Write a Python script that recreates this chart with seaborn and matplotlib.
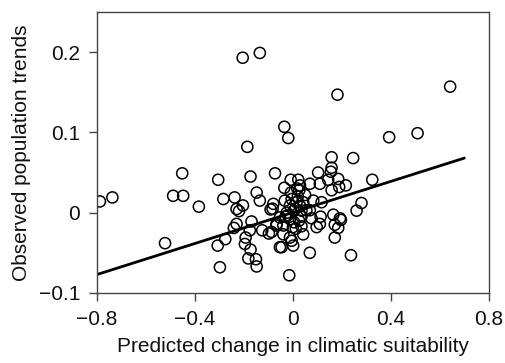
import numpy as np
import pandas as pd
import seaborn as sns
import matplotlib.pyplot as plt

# --- Data ---
suitability = [
    -0.205, -0.135, 0.182, 0.642, -0.035, -0.019, 0.393, 0.509,
    -0.186, -0.452, -0.305, -0.173, -0.073, -0.788, -0.737, -0.489,
    -0.448, -0.384, -0.284, -0.238, -0.230, -0.220, -0.204, -0.148,
    -0.135, -0.091, -0.080, -0.230, -0.241, -0.169, -0.176, -0.125,
    -0.098, -0.067, -0.193, -0.276, -0.196, -0.307, -0.522, -0.173,
    -0.182, -0.151, -0.148, -0.298, -0.053,
    0.158, 0.246, 0.158, 0.155, 0.103, -0.009, 0.022, 0.029,
    0.026, 0.069, 0.110, 0.144, 0.185, 0.216, 0.189, 0.158,
    0.324, -0.035, -0.033, -0.005, -0.012, 0.015, 0.042, 0.083,
    0.117, 0.004, 0.035, 0.069, -0.083, 0.280, 0.260, 0.165,
    0.192, 0.196, 0.113, 0.076, 0.035, -0.012, -0.053, -0.067,
    -0.039, 0.035, 0.097, 0.110, 0.171, 0.185, -0.087, -0.039,
    0.042, -0.012, -0.005, 0.171, 0.001, -0.046, 0.069, 0.237,
    -0.015,
    0.010, 0.020, -0.020, 0.005, 0.030, -0.025, 0.050, 0.012,
    -0.008, 0.025, 0.055, -0.030, 0.000, 0.018,
]
trend = [
    0.193, 0.199, 0.147, 0.157, 0.107, 0.093, 0.094, 0.099,
    0.082, 0.049, 0.041, 0.045, 0.049, 0.014, 0.019, 0.021,
    0.021, 0.0075, 0.017, 0.019, 0.0046, 0.002, 0.009, 0.025,
    0.015, 0.004, 0.011, -0.014, -0.019, -0.011, -0.022, -0.022,
    -0.026, -0.016, -0.031, -0.033, -0.039, -0.041, -0.038, -0.046,
    -0.057, -0.058, -0.067, -0.068, -0.043,
    0.069, 0.068, 0.056, 0.051, 0.050, 0.041, 0.041, 0.034,
    0.028, 0.036, 0.036, 0.041, 0.042, 0.034, 0.032, 0.028,
    0.041, 0.031, 0.015, 0.017, 0.009, 0.013, 0.013, 0.015,
    0.013, 0.0025, 0.0025, 0.003, 0.005, 0.012, 0.0025, -0.0025,
    -0.007, -0.009, -0.005, -0.007, -0.005, -0.008, -0.006, -0.014,
    -0.016, -0.017, -0.018, -0.014, -0.015, -0.019, -0.024, -0.027,
    -0.027, -0.031, -0.035, -0.031, -0.041, -0.043, -0.050, -0.053,
    -0.078,
    0.005, 0.020, -0.003, -0.012, 0.008, 0.000, 0.022, -0.020,
    0.025, -0.010, 0.003, -0.005, -0.018, 0.030,
]

# published regression line (slope / intercept)
fit_slope = 0.0967
fit_intercept = 0.0003
fit_x_range = [-0.8, 0.70]

x_ticks = [-0.8, -0.4, 0, 0.4, 0.8]
x_tick_labels = ["\u22120.8", "\u22120.4", "0", "0.4", "0.8"]
y_ticks = [-0.1, 0, 0.1, 0.2]
y_tick_labels = ["\u22120.1", "0", "0.1", "0.2"]

df = pd.DataFrame({"suitability": suitability, "trend": trend})

sns.set_theme(style="ticks")
plt.rcParams["font.family"] = ["Liberation Sans", "DejaVu Sans"]

fig = plt.figure(figsize=(5.05, 3.63), dpi=100)
ax = fig.add_axes([0.192, 0.193, 0.776, 0.774])

sns.scatterplot(data=df, x="suitability", y="trend", ax=ax,
                facecolor="none", edgecolor="black", linewidth=1.1, s=64)

fit_x = np.array(fit_x_range)
sns.lineplot(x=fit_x, y=fit_slope * fit_x + fit_intercept, ax=ax,
             color="black", linewidth=2)

ax.set_xlim(-0.8, 0.8)
ax.set_ylim(-0.1, 0.25)
ax.set_xticks(x_ticks)
ax.set_xticklabels(x_tick_labels)
ax.set_yticks(y_ticks)
ax.set_yticklabels(y_tick_labels)
ax.tick_params(labelsize=15, length=6, width=1, color="#444444",
               labelcolor="#111111", pad=6)
for sp in ax.spines.values():
    sp.set_visible(True)
    sp.set_color("#444444")
    sp.set_linewidth(1)
ax.set_xlabel("Predicted change in climatic suitability", fontsize=15,
              labelpad=6, color="#111111")
ax.set_ylabel("Observed population trends", fontsize=15,
              labelpad=6, color="#111111")

fig.savefig("out.png", dpi=100)
